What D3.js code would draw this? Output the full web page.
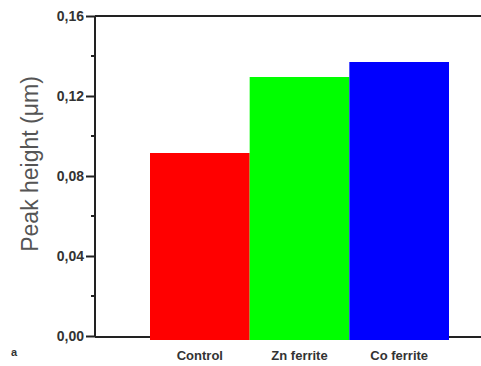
<!DOCTYPE html>
<html>
<head>
<meta charset="utf-8">
<script src="https://cdn.jsdelivr.net/npm/d3@7"></script>
<style>
  html, body { margin: 0; padding: 0; background: #fff; }
  svg { display: block; }
</style>
</head>
<body>
<svg id="chart" width="481" height="366"></svg>
<script>
// Peak height per sample
const categories = ["Control", "Zn ferrite", "Co ferrite"];
const peakHeights = [0.0915, 0.1295, 0.137];
const barColors = ["#ff0000", "#00ff00", "#0000ff"];
const majorTicks = [0, 0.04, 0.08, 0.12, 0.16];
const minorTicks = [0.02, 0.06, 0.10, 0.14];
const tickLabels = ["0,00", "0,04", "0,08", "0,12", "0,16"];

(function () {
const svg = d3.select("#chart");
const pLeft = 95, pRight = 481, pTop = 16, pBottom = 336;
const font = "Liberation Sans, Arial, sans-serif";

const y = d3.scaleLinear().domain([0, 0.16]).range([pBottom, pTop]);
const x = d3.scaleBand().domain(categories).range([150, 449]).padding(0);

// bars (drawn slightly over the baseline)
svg.append("g").selectAll("rect")
  .data(peakHeights)
  .join("rect")
  .attr("x", (d, i) => x(categories[i]))
  .attr("width", x.bandwidth())
  .attr("y", d => y(d))
  .attr("height", d => y(0) - y(d) + 4)
  .attr("fill", (d, i) => barColors[i]);

// frame lines: top and bottom
svg.append("line").attr("x1", pLeft).attr("x2", pRight).attr("y1", pTop).attr("y2", pTop)
  .attr("stroke", "#222").attr("stroke-width", 2);
svg.append("line").attr("x1", pLeft).attr("x2", 150).attr("y1", pBottom + 1).attr("y2", pBottom + 1)
  .attr("stroke", "#222").attr("stroke-width", 2);
svg.append("line").attr("x1", 449).attr("x2", pRight).attr("y1", pBottom + 1).attr("y2", pBottom + 1)
  .attr("stroke", "#222").attr("stroke-width", 2);

// left axis with major ticks
const yAxis = d3.axisLeft(y)
  .tickValues(majorTicks)
  .tickSize(9)
  .tickPadding(2)
  .tickFormat((d, i) => tickLabels[i]);
const gy = svg.append("g").attr("transform", `translate(${pLeft},0)`).call(yAxis);
gy.select(".domain").attr("stroke", "#222").attr("stroke-width", 2).attr("d", `M0,${pTop}V${pBottom + 1}`);
gy.selectAll(".tick line").attr("stroke", "#222").attr("stroke-width", 2);
gy.selectAll(".tick text")
  .attr("font-family", font)
  .attr("font-size", 14).attr("font-weight", "bold").attr("fill", "#333");

// minor ticks
svg.append("g").selectAll("line")
  .data(minorTicks)
  .join("line")
  .attr("x1", pLeft - 4).attr("x2", pLeft)
  .attr("y1", d => y(d)).attr("y2", d => y(d))
  .attr("stroke", "#222").attr("stroke-width", 2);

// category labels
svg.append("g").selectAll("text")
  .data(categories)
  .join("text")
  .attr("x", d => x(d) + x.bandwidth() / 2)
  .attr("y", 360)
  .attr("text-anchor", "middle")
  .attr("font-family", font)
  .attr("font-size", 13).attr("font-weight", "bold").attr("fill", "#333")
  .text(d => d);

// y axis title
svg.append("text")
  .attr("transform", `translate(38,164) rotate(-90)`)
  .attr("text-anchor", "middle")
  .attr("font-family", font)
  .attr("font-size", 23).attr("fill", "#555")
  .text("Peak height (\u03bcm)");

// panel letter
svg.append("text")
  .attr("x", 11).attr("y", 356)
  .attr("font-family", font)
  .attr("font-size", 11).attr("font-weight", "bold").attr("fill", "#333")
  .text("a");
})();
</script>
</body>
</html>
